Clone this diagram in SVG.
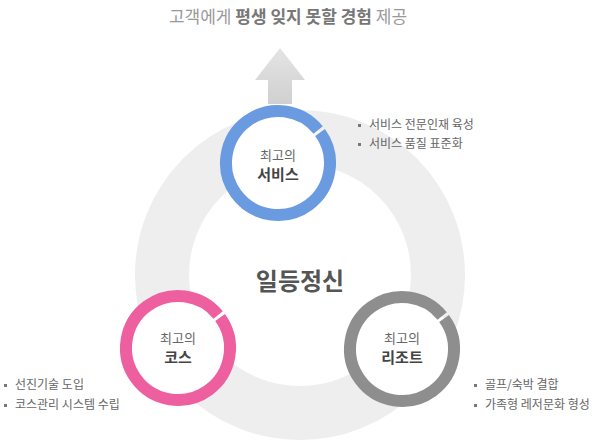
<svg xmlns="http://www.w3.org/2000/svg" width="601" height="444" viewBox="0 0 601 444">
<style>
text{font-family:"Noto Sans CJK KR","Noto Sans",sans-serif}
.t1{font-size:13px;fill:#666;text-anchor:middle}
.t2{font-size:15px;fill:#444;font-weight:bold;text-anchor:middle}
.li{font-size:12px;fill:#666}
.b{fill:#777}
.rg{fill:none;stroke-width:12;stroke-dasharray:323 4}
</style>
<defs>
<linearGradient id="ag" x1="0" y1="0" x2="0" y2="1"><stop offset="0" stop-color="#e4e4e4"/><stop offset="1" stop-color="#d0d0d0"/></linearGradient>
</defs>
<rect width="601" height="444" fill="#fff"/>
<text x="288" y="23" font-size="17" fill="#999" text-anchor="middle">고객에게 <tspan font-weight="bold" fill="#777">평생 잊지 못할 경험</tspan> 제공</text>
<g id="arrow"><path d="M268,104 V80 H255 L280,48 L305,80 H292 V104 Z" fill="url(#ag)"/></g>
<g id="ring"><circle cx="300" cy="275" r="138" fill="none" stroke="#eeeeee" stroke-width="54"/>
<text x="300" y="290" font-size="24" font-weight="bold" fill="#555" text-anchor="middle">일등정신</text></g>
<g id="connectors"></g>
<g id="service">
<circle cx="278" cy="163" r="52" fill="#fff"/>
<circle cx="278" cy="163" r="52" class="rg" stroke="#6a9ae0" transform="rotate(-36 278 163)"/>
<text class="t1" x="278" y="160">최고의</text><text class="t2" x="278" y="180">서비스</text>
<rect x="358" y="124" width="3" height="3" class="b"/><text class="li" x="369" y="129">서비스 전문인재 육성</text>
<rect x="358" y="143" width="3" height="3" class="b"/><text class="li" x="369" y="148">서비스 품질 표준화</text>
</g>
<g id="course">
<circle cx="178" cy="348" r="52" fill="#fff"/>
<circle cx="178" cy="348" r="52" class="rg" stroke="#ee5f9f" transform="rotate(-36 178 348)"/>
<text class="t1" x="178" y="343">최고의</text><text class="t2" x="178" y="363">코스</text>
<rect x="4" y="384" width="3" height="3" class="b"/><text class="li" x="15" y="389">선진기술 도입</text>
<rect x="4" y="404" width="3" height="3" class="b"/><text class="li" x="15" y="409">코스관리 시스템 수립</text>
</g>
<g id="resort">
<circle cx="402" cy="349" r="52" fill="#fff"/>
<circle cx="402" cy="349" r="52" class="rg" stroke="#8e8e8e" transform="rotate(-36 402 349)"/>
<text class="t1" x="402" y="343">최고의</text><text class="t2" x="402" y="363">리조트</text>
<rect x="474" y="384" width="3" height="3" class="b"/><text class="li" x="485" y="389">골프/숙박 결합</text>
<rect x="474" y="404" width="3" height="3" class="b"/><text class="li" x="485" y="409">가족형 레저문화 형성</text>
</g>
</svg>
